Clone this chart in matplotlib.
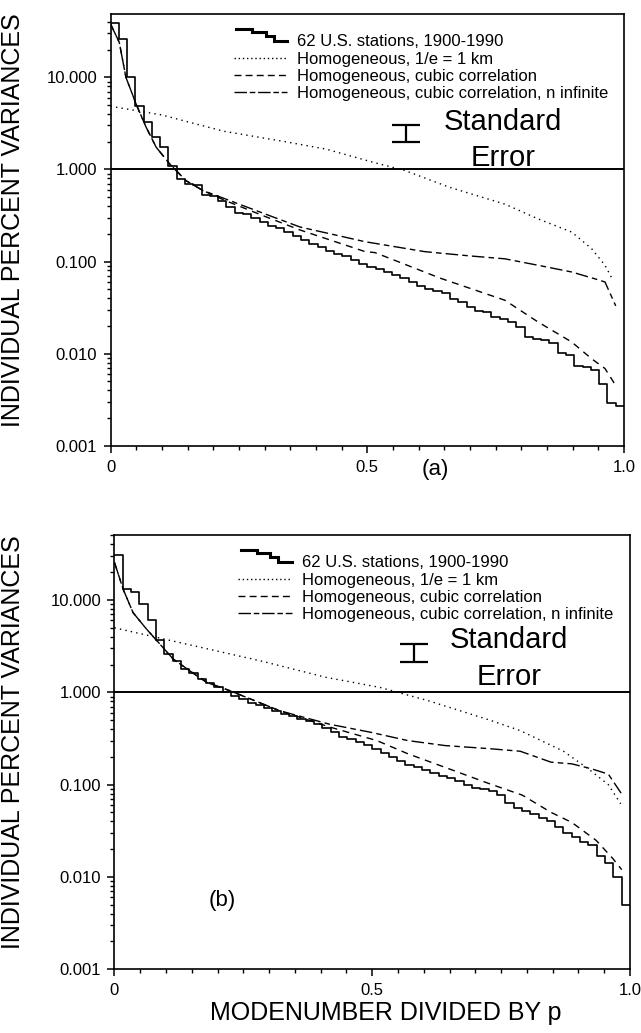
import numpy as np
import matplotlib
matplotlib.use('Agg')
import matplotlib.pyplot as plt
from matplotlib.lines import Line2D

plt.rcParams['font.family'] = ['Liberation Sans', 'DejaVu Sans']

# mode number / p, 62 modes -> step edges
p = 62
edges = np.arange(p + 1) / p

# ---- panel (a) ----
obs_a = [38.5, 26, 10.0, 4.9, 3.25, 2.23, 1.77, 1.10, 0.79, 0.70,
         0.68, 0.53, 0.52, 0.45, 0.39, 0.34, 0.33, 0.30, 0.27, 0.245,
         0.23, 0.21, 0.19, 0.17, 0.155, 0.145, 0.13, 0.122, 0.115, 0.105,
         0.095, 0.088, 0.082, 0.077, 0.072, 0.066, 0.060, 0.054, 0.050, 0.048,
         0.045, 0.039, 0.036, 0.032, 0.029, 0.028, 0.025, 0.024, 0.022, 0.0194,
         0.0152, 0.0145, 0.0139, 0.0131, 0.0102, 0.0096, 0.0074, 0.0072, 0.0066, 0.0047,
         0.0029, 0.0027]
dot_a_x = [0, 0.10, 0.22, 0.34, 0.42, 0.515, 0.573, 0.66, 0.768, 0.833, 0.898, 0.937, 0.963, 0.979]
dot_a_y = [4.85, 3.9, 2.6, 2.0, 1.66, 1.18, 0.975, 0.64, 0.42, 0.29, 0.209, 0.138, 0.091, 0.062]
cub_a_x = [0, 0.017, 0.030, 0.050, 0.069, 0.089, 0.115, 0.147, 0.180, 0.223, 0.30, 0.369,
           0.496, 0.515, 0.642, 0.768, 0.833, 0.898, 0.937, 0.963, 0.984]
cub_a_y = [38, 24, 10, 5.1, 2.9, 1.74, 1.15, 0.755, 0.59, 0.46, 0.31, 0.22,
           0.128, 0.125, 0.066, 0.038, 0.022, 0.0134, 0.0088, 0.0069, 0.0045]
inf_a_x = [0, 0.017, 0.030, 0.050, 0.069, 0.089, 0.115, 0.147, 0.180, 0.223, 0.30, 0.369,
           0.496, 0.612, 0.70, 0.768, 0.833, 0.898, 0.943, 0.963, 0.984]
inf_a_y = [38, 24, 10, 5.1, 2.9, 1.74, 1.15, 0.755, 0.59, 0.48, 0.33, 0.237,
           0.164, 0.128, 0.115, 0.107, 0.091, 0.077, 0.065, 0.060, 0.033]

# ---- panel (b) ----
obs_b = [31, 13, 12.3, 9.0, 6.1, 3.7, 2.6, 2.2, 1.8, 1.6,
         1.4, 1.25, 1.15, 1.0, 0.92, 0.84, 0.77, 0.73, 0.68, 0.63,
         0.58, 0.56, 0.52, 0.49, 0.45, 0.41, 0.37, 0.33, 0.31, 0.29,
         0.27, 0.245, 0.22, 0.20, 0.18, 0.165, 0.155, 0.145, 0.135, 0.125,
         0.118, 0.11, 0.10, 0.093, 0.090, 0.085, 0.077, 0.063, 0.056, 0.052,
         0.048, 0.044, 0.040, 0.035, 0.030, 0.027, 0.024, 0.022, 0.017, 0.014,
         0.010, 0.005]
dot_b_x = [0, 0.094, 0.282, 0.411, 0.515, 0.609, 0.728, 0.787, 0.871, 0.918, 0.958, 0.982]
dot_b_y = [5.0, 3.8, 2.2, 1.45, 1.13, 0.81, 0.50, 0.385, 0.23, 0.15, 0.10, 0.062]
cub_b_x = [0, 0.017, 0.036, 0.062, 0.079, 0.114, 0.146, 0.179, 0.224, 0.321, 0.418, 0.509,
           0.569, 0.641, 0.728, 0.791, 0.847, 0.887, 0.934, 0.966, 0.984]
cub_b_y = [25.5, 13, 7.3, 4.85, 3.8, 2.29, 1.71, 1.28, 1.04, 0.63, 0.42, 0.30,
           0.216, 0.154, 0.102, 0.077, 0.050, 0.039, 0.025, 0.016, 0.012]
inf_b_x = [0, 0.017, 0.036, 0.062, 0.079, 0.114, 0.146, 0.179, 0.224, 0.321, 0.418, 0.496,
           0.569, 0.641, 0.728, 0.787, 0.847, 0.887, 0.926, 0.958, 0.984]
inf_b_y = [25.5, 13, 7.3, 4.85, 3.8, 2.29, 1.71, 1.28, 1.04, 0.63, 0.45, 0.37,
           0.30, 0.265, 0.245, 0.23, 0.175, 0.168, 0.148, 0.13, 0.079]

labels = ['62 U.S. stations, 1900-1990', 'Homogeneous, 1/e = 1 km',
          'Homogeneous, cubic correlation', 'Homogeneous, cubic correlation, n infinite']
ytick_vals = [0.001, 0.01, 0.1, 1, 10]
ytick_labels = ['0.001', '0.010', '0.100', '1.000', '10.000']

# standard error bar: x, low, high
se_a = (0.576, 2.0, 3.0)
se_b = (0.581, 2.15, 3.35)


class StairHandler:
    def legend_artist(self, legend, orig_handle, fontsize, handlebox):
        x0, y0 = handlebox.xdescent, handlebox.ydescent
        w, h = handlebox.width, handlebox.height
        xs = [x0 + 0.05 * w, x0 + 0.35 * w, x0 + 0.35 * w, x0 + 0.6 * w, x0 + 0.6 * w,
              x0 + 0.75 * w, x0 + 0.75 * w, x0 + w]
        ys = [y0 + 1.5 * h, y0 + 1.5 * h, y0 + 1.2 * h, y0 + 1.2 * h, y0 + 0.9 * h,
              y0 + 0.9 * h, y0 + 0.5 * h, y0 + 0.5 * h]
        line = Line2D(xs, ys, color='k', lw=2.2, solid_joinstyle='miter')
        line.set_transform(handlebox.get_transform())
        handlebox.add_artist(line)
        return line


def panel(ax, obs, dx, dy, cx, cy, ix, iy, se, ymax, tag, tagpos, std_y, err_y):
    ax.step(edges, list(obs) + [obs[-1]], where='post', color='k', lw=1.2)
    ax.plot(dx, dy, color='k', lw=1.0, linestyle=(0, (1, 3)))
    ax.plot(cx, cy, color='k', lw=1.0, linestyle=(0, (5, 4)))
    ax.plot(ix, iy, color='k', lw=1.0, linestyle=(0, (9, 3, 4, 3)))
    ax.axhline(1.0, color='k', lw=1.4)
    ax.set_yscale('log')
    ax.set_xlim(0, 1)
    ax.set_ylim(0.001, ymax)
    ax.set_yticks(ytick_vals)
    ax.set_yticklabels(ytick_labels)
    ax.set_xticks([0, 0.5, 1.0])
    ax.set_xticklabels(['0', '0.5', '1.0'])
    ax.set_xticks(np.arange(0, 1.0001, 0.05), minor=True)
    ax.tick_params(axis='both', which='major', direction='out', length=5, width=1.1,
                   labelsize=12, pad=4.5, right=False, top=False)
    ax.tick_params(axis='both', which='minor', direction='out', length=3, width=1.0,
                   right=False, top=False)
    ax.tick_params(axis='x', which='major', pad=5)
    for s in ax.spines.values():
        s.set_linewidth(1.2)

    # legend
    h0 = Line2D([], [], color='k', lw=2)
    h1 = Line2D([], [], color='k', lw=1.0, linestyle=(0, (1, 2)))
    h2 = Line2D([], [], color='k', lw=1.0, linestyle=(0, (5, 3)))
    h3 = Line2D([], [], color='k', lw=1.0, linestyle=(0, (9, 2, 4, 2)))
    ax.legend([h0, h1, h2, h3], labels, loc='upper left', bbox_to_anchor=(0.24, 0.953),
              frameon=False, fontsize=12, handlelength=3.2, handletextpad=0.6,
              labelspacing=0.13, borderpad=0, borderaxespad=0,
              handler_map={h0: StairHandler()})

    ax.errorbar([se[0]], [np.sqrt(se[1] * se[2])],
                yerr=[[np.sqrt(se[1] * se[2]) - se[1]], [se[2] - np.sqrt(se[1] * se[2])]],
                fmt='none', ecolor='k', elinewidth=1.6, capsize=10, capthick=1.6)
    ax.text(0.765, std_y, 'Standard', ha='center', va='baseline', fontsize=21)
    ax.text(0.765, err_y, 'Error', ha='center', va='baseline', fontsize=21)
    t = ax.text(tagpos[0], tagpos[1], tag, ha='center', va='center', fontsize=16)
    t.set_clip_on(False)

    ax.set_ylabel('INDIVIDUAL PERCENT VARIANCES', fontsize=18)


fig = plt.figure(figsize=(6.41, 10.33), dpi=100)
ax1 = fig.add_axes([0.1724, 0.5685, 0.801, 0.4179])
ax2 = fig.add_axes([0.1786, 0.0617, 0.8042, 0.4204])

panel(ax1, obs_a, dot_a_x, dot_a_y, cub_a_x, cub_a_y, inf_a_x, inf_a_y, se_a, 48.6,
      '(a)', (0.632, 0.00055), 2.67, 1.10)
ax1.yaxis.set_label_coords(-0.166, 0.523)

panel(ax2, obs_b, dot_b_x, dot_b_y, cub_b_x, cub_b_y, inf_b_x, inf_b_y, se_b, 50.6,
      '(b)', (0.21, 0.0055), 3.0, 1.2)
ax2.yaxis.set_label_coords(-0.174, 0.524)
ax2.set_xlabel('MODENUMBER DIVIDED BY p', fontsize=18)
ax2.xaxis.set_label_coords(0.527, -0.072)

fig.savefig('out.png', dpi=100)
